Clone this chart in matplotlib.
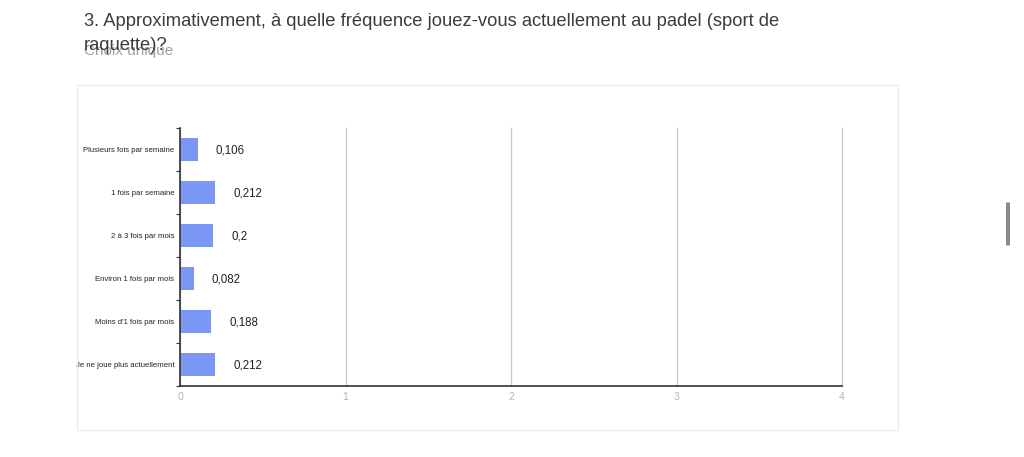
import numpy as np
import matplotlib.pyplot as plt
from matplotlib.patches import Rectangle, FancyBboxPatch

# Data
categories = ["Plusieurs fois par semaine", "1 fois par semaine", "2 à 3 fois par mois",
              "Environ 1 fois par mois", "Moins d'1 fois par mois", "Je ne joue plus actuellement"]
values = [0.106, 0.212, 0.2, 0.082, 0.188, 0.212]
value_labels = ["0,106", "0,212", "0,2", "0,082", "0,188", "0,212"]
xticks = [0, 1, 2, 3, 4]

plt.rcParams['font.family'] = ['Liberation Sans', 'DejaVu Sans']

W, H = 1024, 457
fig = plt.figure(figsize=(W / 100, H / 100), dpi=100)

# outer card frame
fig.patches.append(Rectangle((77 / W, 1 - 430 / H), (898 - 77) / W, (430 - 85) / H,
                             transform=fig.transFigure, fill=False, edgecolor='#ececec',
                             linewidth=1))
# scrollbar
fig.patches.append(FancyBboxPatch((1006 / W, 1 - 246 / H), 4 / W, 44 / H,
                                  boxstyle="round,pad=0,rounding_size=0.003",
                                  transform=fig.transFigure, facecolor='#8a8a8a',
                                  edgecolor='none'))

# titles
fig.text(84 / W, 1 - 22 / H, "3. Approximativement, à quelle fréquence jouez-vous actuellement au padel (sport de",
         fontsize=13.2, color='#3c3c3c', va='center', ha='left')
fig.text(84 / W, 1 - 51 / H, "Choix unique", fontsize=11, color='#a0a0a0', va='center', ha='left')
fig.text(84 / W, 1 - 45 / H, "raquette)?", fontsize=13.2, color='#3c3c3c', va='center', ha='left')

ax = fig.add_axes([180 / W, 1 - 386 / H, (842 - 180) / W, (386 - 128) / H])
y = np.arange(len(categories))
ax.barh(y, values, height=0.52, color='#7b97f6', zorder=3)
ax.set_ylim(len(categories) - 0.5, -0.5)
ax.set_xlim(0, 4)

for yi, v, lab in zip(y, values, value_labels):
    ax.annotate(lab, (v, yi), xytext=(18, -1), textcoords='offset pixels',
                ha='left', va='center', fontsize=8.3, color='#222222')

ax.set_yticks(y)
ax.set_yticklabels(categories, fontsize=5.6, color='#222222')
ax.tick_params(axis='y', which='major', length=0, pad=4)
ax.set_yticks(np.arange(-0.5, len(categories), 1), minor=True)
ax.tick_params(axis='y', which='minor', length=3, color='#333333', width=0.8)

ax.set_xticks(xticks)
ax.set_xticklabels([str(t) for t in xticks], fontsize=7.5, color='#b5b5b5')
ax.tick_params(axis='x', length=0, pad=4)
ax.grid(axis='x', color='#cccccc', linewidth=1, zorder=0)
for gl in ax.get_xgridlines():
    gl.set_clip_on(False)

for s in ['top', 'right']:
    ax.spines[s].set_visible(False)
for s in ['left', 'bottom']:
    ax.spines[s].set_color('#333333')
    ax.spines[s].set_linewidth(1.2)
    ax.spines[s].set_zorder(4)

fig.savefig('out.png', dpi=100)
